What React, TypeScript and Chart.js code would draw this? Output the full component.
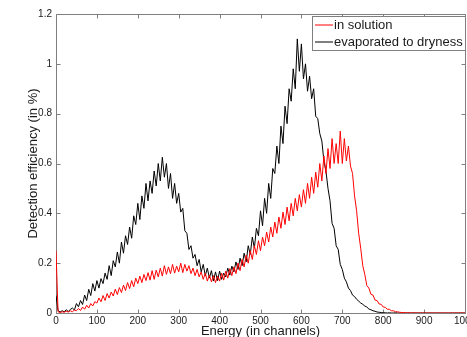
import React, { useEffect, useRef } from "react";
import { Chart, registerables } from "chart.js";

Chart.register(...registerables);

// Channel spacing of the sampled spectra (value i is at channel i * CHANNEL_STEP)
const CHANNEL_STEP = 5;

const xTickValues = [0, 100, 200, 300, 400, 500, 600, 700, 800, 900, 1000];
const yTickValues = [0, 0.2, 0.4, 0.6, 0.8, 1, 1.2];

const seriesLabels = ["in solution", "evaporated to dryness"];
const seriesColors = ["#ff0000", "#000000"];

const xTitle = "Energy (in channels)";
const yTitle = "Detection efficiency (in %)";

// Detection efficiency, sample in solution (channels 0..1000, step 5)
const inSolution = [
  0.25, 0.005, 0.002, 0.005, 0.003, 0.007, 0.004, 0.009, 0.005, 0.012, 0.009, 0.018, 0.01, 0.024, 0.015, 0.031, 0.02, 0.038, 0.028, 0.046,
  0.04, 0.06, 0.045, 0.07, 0.05, 0.078, 0.06, 0.084, 0.068, 0.096, 0.074, 0.102, 0.082, 0.112, 0.09, 0.122, 0.098, 0.13, 0.105, 0.14,
  0.118, 0.148, 0.122, 0.155, 0.13, 0.162, 0.132, 0.17, 0.135, 0.172, 0.145, 0.18, 0.148, 0.19, 0.155, 0.185, 0.158, 0.195, 0.16, 0.188,
  0.165, 0.2, 0.162, 0.195, 0.168, 0.19, 0.158, 0.18, 0.15, 0.175, 0.145, 0.165, 0.135, 0.16, 0.128, 0.152, 0.125, 0.15, 0.122, 0.148,
  0.128, 0.16, 0.132, 0.168, 0.14, 0.178, 0.15, 0.185, 0.158, 0.2, 0.17, 0.215, 0.185, 0.232, 0.2, 0.25, 0.215, 0.27, 0.235, 0.29,
  0.25, 0.305, 0.27, 0.325, 0.285, 0.345, 0.305, 0.365, 0.32, 0.385, 0.34, 0.405, 0.355, 0.425, 0.37, 0.44, 0.39, 0.46, 0.41, 0.475,
  0.425, 0.495, 0.44, 0.52, 0.46, 0.545, 0.48, 0.565, 0.505, 0.6, 0.53, 0.63, 0.56, 0.66, 0.58, 0.7, 0.6, 0.68, 0.6, 0.73,
  0.6, 0.7, 0.61, 0.67, 0.59, 0.56, 0.47, 0.41, 0.32, 0.26, 0.19, 0.155, 0.11, 0.1, 0.075, 0.072, 0.052, 0.05, 0.036, 0.035,
  0.024, 0.023, 0.015, 0.015, 0.009, 0.009, 0.005, 0.005, 0.003, 0.002, 0.002, 0.001, 0.001, 0.001, 0, 0.001, 0, 0, 0, 0,
  0, 0, 0, 0, 0, 0, 0, 0, 0, 0, 0, 0, 0, 0, 0, 0, 0, 0, 0, 0,
  0,
];

// Detection efficiency, sample evaporated to dryness (channels 0..1000, step 5)
const evaporated = [
  0.07, 0.01, 0.004, 0.009, 0.005, 0.013, 0.006, 0.014, 0.02, 0.012, 0.038, 0.025, 0.05, 0.034, 0.072, 0.05, 0.095, 0.07, 0.118, 0.088,
  0.13, 0.1, 0.138, 0.118, 0.16, 0.135, 0.19, 0.15, 0.21, 0.185, 0.245, 0.2, 0.285, 0.24, 0.31, 0.275, 0.345, 0.3, 0.39, 0.355,
  0.44, 0.375, 0.47, 0.42, 0.52, 0.45, 0.53, 0.48, 0.57, 0.51, 0.6, 0.53, 0.625, 0.545, 0.6, 0.5, 0.56, 0.46, 0.52, 0.44,
  0.48, 0.405, 0.42, 0.33, 0.32, 0.255, 0.27, 0.22, 0.235, 0.19, 0.215, 0.165, 0.195, 0.15, 0.18, 0.14, 0.17, 0.128, 0.165, 0.13,
  0.168, 0.135, 0.16, 0.145, 0.18, 0.152, 0.188, 0.165, 0.205, 0.175, 0.22, 0.19, 0.24, 0.205, 0.27, 0.235, 0.305, 0.26, 0.34, 0.31,
  0.41, 0.35, 0.46, 0.4, 0.52, 0.46, 0.58, 0.56, 0.67, 0.6, 0.75, 0.68, 0.83, 0.76, 0.9, 0.85, 0.98, 0.9, 1.1, 0.97,
  1.08, 0.94, 1.0, 0.89, 0.95, 0.86, 0.9, 0.79, 0.78, 0.72, 0.69, 0.61, 0.57, 0.5, 0.45, 0.36, 0.34, 0.27, 0.255, 0.195,
  0.175, 0.14, 0.125, 0.1, 0.09, 0.072, 0.066, 0.055, 0.048, 0.04, 0.035, 0.028, 0.024, 0.016, 0.013, 0.009, 0.007, 0.004, 0.003, 0.002,
  0.001, 0.001, 0, 0.001, 0, 0, 0.001, 0, 0, 0, 0, 0, 0, 0, 0, 0, 0, 0, 0, 0,
  0, 0, 0, 0, 0, 0, 0, 0, 0, 0, 0, 0, 0, 0, 0, 0, 0, 0, 0, 0,
  0,
];

const FONT = '"Liberation Sans", Arial, Helvetica, sans-serif';
const AXIS_COLOR = "#7f7f7f";
const TEXT_COLOR = "#1a1a1a";

const toPoints = (values: number[]) =>
  values.map((v, i) => ({ x: i * CHANNEL_STEP, y: v }));

const matlabFrame = {
  id: "matlabFrame",
  beforeDatasetsDraw(chart: any) {
    const { ctx, chartArea: a, scales } = chart;
    const xs = scales.x;
    const ys = scales.y;
    const L = Math.round(a.left) + 0.5;
    const R = Math.round(a.right) + 0.5;
    const T = Math.round(a.top) + 0.5;
    const B = Math.round(a.bottom) + 0.5;
    ctx.save();
    ctx.strokeStyle = AXIS_COLOR;
    ctx.lineWidth = 1;
    ctx.beginPath();
    ctx.moveTo(L, T);
    ctx.lineTo(R, T);
    ctx.lineTo(R, B);
    ctx.lineTo(L, B);
    ctx.closePath();
    const tl = 4;
    xs.ticks.forEach((t: any) => {
      const px = Math.round(xs.getPixelForValue(t.value)) + 0.5;
      ctx.moveTo(px, B);
      ctx.lineTo(px, B - tl);
      ctx.moveTo(px, T);
      ctx.lineTo(px, T + tl);
    });
    ys.ticks.forEach((t: any) => {
      const py = Math.round(ys.getPixelForValue(t.value)) + 0.5;
      ctx.moveTo(L, py);
      ctx.lineTo(L + tl, py);
      ctx.moveTo(R, py);
      ctx.lineTo(R - tl, py);
    });
    ctx.stroke();

    // axis titles
    ctx.fillStyle = TEXT_COLOR;
    ctx.font = `13px ${FONT}`;
    ctx.textAlign = "center";
    ctx.textBaseline = "middle";
    ctx.fillText(xTitle, (a.left + a.right) / 2, 331);
    ctx.translate(33, (a.top + a.bottom) / 2);
    ctx.rotate(-Math.PI / 2);
    ctx.fillText(yTitle, 0, 0);
    ctx.restore();
  },
  afterDatasetsDraw(chart: any) {
    const { ctx } = chart;
    const datasets = chart.data.datasets;
    const boxL = 312.5;
    const boxT = 16.5;
    const boxR = 465.5;
    const boxB = 50.5;
    ctx.save();
    ctx.fillStyle = "#ffffff";
    ctx.fillRect(boxL, boxT, boxR - boxL, boxB - boxT);
    ctx.strokeStyle = AXIS_COLOR;
    ctx.lineWidth = 1;
    ctx.strokeRect(boxL, boxT, boxR - boxL, boxB - boxT);
    ctx.font = `13px ${FONT}`;
    ctx.textAlign = "left";
    ctx.textBaseline = "middle";
    datasets.forEach((ds: any, i: number) => {
      const y = 25 + i * 17;
      ctx.strokeStyle = ds.borderColor;
      ctx.beginPath();
      ctx.moveTo(315, y);
      ctx.lineTo(333, y);
      ctx.stroke();
      ctx.fillStyle = TEXT_COLOR;
      ctx.fillText(ds.label, 334, y + 0.5);
    });
    ctx.restore();
  },
};

export default function App() {
  const canvasRef = useRef<HTMLCanvasElement | null>(null);

  useEffect(() => {
    if (!canvasRef.current) return;
    const chart = new Chart(canvasRef.current, {
      type: "line",
      data: {
        datasets: [
          {
            label: seriesLabels[0],
            data: toPoints(inSolution),
            borderColor: seriesColors[0],
            borderWidth: 1,
            pointRadius: 0,
            tension: 0,
            fill: false,
          },
          {
            label: seriesLabels[1],
            data: toPoints(evaporated),
            borderColor: seriesColors[1],
            borderWidth: 1,
            pointRadius: 0,
            tension: 0,
            fill: false,
          },
        ],
      },
      options: {
        animation: false,
        responsive: false,
        maintainAspectRatio: false,
        devicePixelRatio: 1,
        parsing: false as any,
        layout: {
          autoPadding: false,
          padding: { top: 14, right: 2, left: 0, bottom: 0 },
        } as any,
        plugins: {
          legend: { display: false },
          tooltip: { enabled: false },
          title: { display: false },
        },
        scales: {
          x: {
            type: "linear",
            min: 0,
            max: 1000,
            afterFit: (s: any) => {
              s.height = 24;
              s.paddingLeft = 0;
              s.paddingRight = 0;
            },
            afterBuildTicks: (s: any) => {
              s.ticks = xTickValues.map((v) => ({ value: v }));
            },
            grid: { display: false, drawTicks: false },
            border: { display: false },
            ticks: {
              padding: 2,
              maxRotation: 0,
              autoSkip: false,
              color: TEXT_COLOR,
              font: { family: FONT, size: 10 },
              callback: (v: any) => String(v),
            },
          },
          y: {
            type: "linear",
            min: 0,
            max: 1.2,
            afterFit: (s: any) => {
              s.width = 56;
              s.paddingTop = 0;
              s.paddingBottom = 0;
            },
            afterBuildTicks: (s: any) => {
              s.ticks = yTickValues.map((v) => ({ value: v }));
            },
            grid: { display: false, drawTicks: false },
            border: { display: false },
            ticks: {
              padding: 4,
              autoSkip: false,
              color: TEXT_COLOR,
              font: { family: FONT, size: 10 },
              callback: (v: any) => String(Math.round(v * 10) / 10),
            },
          },
        },
      },
      plugins: [matlabFrame],
    });
    return () => chart.destroy();
  }, []);

  return (
    <div style={{ position: "fixed", left: 0, top: 0, width: 467, height: 337, background: "#fff" }}>
      <canvas ref={canvasRef} width={467} height={337} style={{ display: "block", width: 467, height: 337 }} />
    </div>
  );
}
